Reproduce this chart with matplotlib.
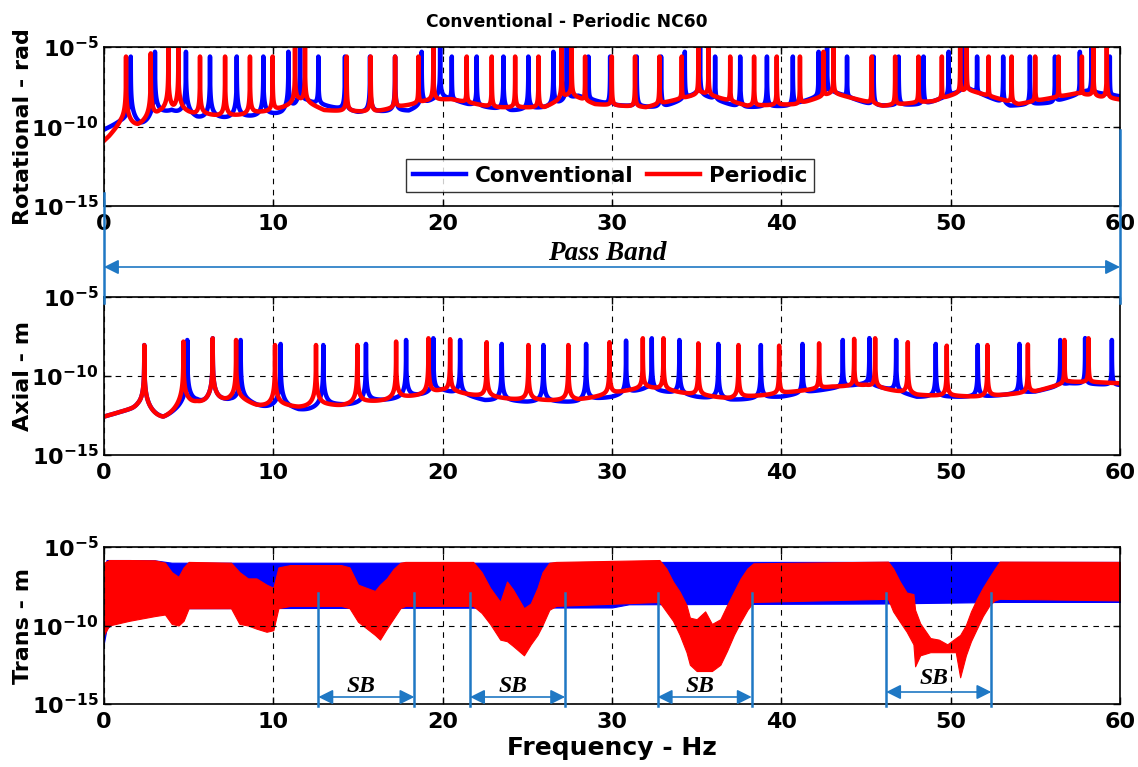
import numpy as np
import pandas as pd
import matplotlib.pyplot as plt
from matplotlib.lines import Line2D
from matplotlib.transforms import blended_transform_factory

plt.rcParams['font.family'] = ['DejaVu Sans']
plt.rcParams['font.weight'] = 'bold'
plt.rcParams['mathtext.fontset'] = 'custom'
plt.rcParams['mathtext.rm'] = 'DejaVu Sans:bold'
plt.rcParams['mathtext.bf'] = 'DejaVu Sans:bold'
plt.rcParams['mathtext.it'] = 'DejaVu Sans:bold:italic'
plt.rcParams['path.simplify'] = False   # keep the narrow resonance peaks

# ---- rotational FRF: resonance frequencies [Hz], peak levels and trough levels [log10 rad]
rot_conv_peaks = [1.58, 3.01, 4.84, 6.26, 7.84, 9.41, 10.89, 11.58, 12.66, 14.23, 15.71, 17.19,
                  18.76, 19.85, 20.54, 22.01, 23.59, 25.06, 26.54, 27.33, 28.61, 29.89, 31.46,
                  32.9, 34.3, 35.2, 36.09, 37.57, 39.15, 40.68, 42.2, 42.7, 43.88, 45.45, 46.93,
                  48.4, 49.88, 50.77, 51.56, 53.1, 54.68, 56.16, 57.63, 58.32, 59.4]
rot_conv_levels = [-5.6, -5.3, -5.3, -5.6, -5.6, -5.6, -5.3, -4.9, -5.6, -5.6, -5.6, -5.6,
                   -5.3, -4.9, -5.6, -5.6, -5.6, -5.6, -5.3, -4.9, -5.6, -5.6, -5.6,
                   -5.6, -5.3, -4.9, -5.6, -5.6, -5.6, -5.6, -5.3, -4.9, -5.6, -5.6, -5.6,
                   -5.6, -5.3, -4.9, -5.6, -5.6, -5.6, -5.6, -5.3, -4.9, -5.6]
rot_per_peaks = [1.30, 2.76, 3.80, 4.39, 5.67, 7.15, 8.62, 9.96, 11.28, 11.87, 14.33, 15.75,
                 17.19, 18.57, 19.45, 21.42, 22.9, 24.28, 25.66, 27.03, 27.62, 28.41, 29.99,
                 31.36, 32.8, 34.12, 35.1, 35.7, 36.98, 38.39, 39.73, 41.1, 42.49, 43.08, 45.34,
                 46.72, 48.1, 49.48, 50.56, 50.95, 52.24, 53.6, 54.99, 56.37, 57.75, 58.43, 59.22]
rot_per_levels = [-5.6, -5.4, -4.9, -4.9, -5.6, -5.6, -5.6, -5.6, -4.9, -4.9, -5.6, -5.6,
                  -5.6, -5.6, -4.9, -5.6, -5.6, -5.6, -5.6, -4.9, -4.9, -5.6, -5.6,
                  -5.6, -5.6, -5.6, -4.9, -4.9, -5.6, -5.6, -5.6, -5.6, -5.3, -4.9, -5.6,
                  -5.6, -5.6, -5.6, -4.9, -4.9, -5.6, -5.6, -5.6, -5.6, -5.6, -4.9, -4.9]
rot_conv_trough_f = [0, 1.0, 2.2, 4.0, 5.5, 8.0, 10.5, 12.0, 15.0, 18.0, 19.8, 21.5, 24.0, 26.5,
                     28.0, 30.0, 33.0, 35.0, 37.5, 40.5, 43.0, 45.5, 48.5, 51.0, 53.5, 56.0,
                     58.0, 60]
rot_conv_trough = [-10.2, -10.0, -9.9, -9.0, -9.45, -9.45, -9.1, -8.5, -9.1, -9.0, -8.1, -8.6,
                   -9.0, -8.7, -8.1, -8.65, -8.8, -7.9, -8.8, -8.7, -7.8, -8.7, -8.6, -7.6,
                   -8.7, -8.5, -7.8, -8.1]
rot_per_trough_f = [0, 0.3, 1.0, 2.0, 3.3, 5.0, 7.5, 10.0, 11.5, 13.0, 16.0, 19.0, 20.5, 23.0,
                    26.0, 27.5, 29.0, 32.0, 35.3, 38.0, 41.0, 43.0, 46.0, 49.0, 51.0, 54.0,
                    57.5, 59.0, 60]
rot_per_trough = [-10.9, -10.7, -10.1, -9.9, -9.1, -9.3, -9.4, -9.0, -8.4, -9.0, -9.1, -8.4,
                  -8.3, -8.8, -8.8, -8.0, -8.6, -8.8, -7.9, -8.7, -8.6, -7.9, -8.7, -8.4,
                  -7.7, -8.6, -7.9, -8.2, -8.3]

# ---- axial FRF [log10 m]
ax_conv_peaks = [2.38, 4.92, 6.42, 8.07, 10.43, 12.95, 15.47, 17.84, 19.45, 21.03, 23.49, 25.95,
                 28.47, 30.83, 32.35, 33.98, 36.28, 38.79, 41.25, 43.63, 45.2, 46.78, 49.12,
                 51.6, 54.06, 56.47, 57.94, 59.52]
ax_conv_levels = [-8.04, -7.72, -7.61, -7.72, -7.97, -8.04, -7.97, -7.72, -7.61, -7.72, -7.97,
                  -8.04, -7.97, -7.76, -7.61, -7.72, -7.97, -8.04, -7.97, -7.72, -7.6, -7.72,
                  -7.97, -8.04, -7.97, -7.72, -7.6, -7.72]
ax_per_peaks = [2.38, 4.69, 6.42, 7.80, 10.1, 12.52, 14.96, 17.25, 19.16, 20.44, 22.6, 25.06,
                27.42, 29.85, 31.82, 33.04, 35.1, 37.47, 39.87, 42.23, 44.3, 45.54, 47.47,
                49.77, 52.17, 54.56, 56.72, 58.14]
ax_per_levels = [-8.04, -7.82, -7.61, -7.72, -8.04, -8.04, -8.04, -7.82, -7.61, -7.67, -7.86,
                 -8.04, -8.04, -7.86, -7.61, -7.61, -7.93, -8.04, -8.08, -7.93, -7.65, -7.61,
                 -7.86, -8.08, -8.04, -8.0, -7.72, -7.61]
ax_conv_trough_f = [0, 2.0, 3.5, 5.5, 7.5, 9.0, 11.5, 14.0, 16.5, 18.5, 20.0, 22.5, 25.0, 28.0,
                    30.0, 32.0, 35.0, 37.0, 40.0, 43.0, 45.0, 48.0, 52.0, 55.0, 57.0, 60]
ax_conv_trough = [-12.57, -12.36, -12.57, -11.62, -11.5, -11.84, -12.15, -11.84, -11.52, -11.2,
                  -10.89, -11.52, -11.62, -11.62, -11.31, -10.78, -11.31, -11.52, -11.31, -10.78,
                  -10.46, -11.31, -11.31, -10.99, -10.46, -10.57]
ax_per_trough_f = [0, 2.0, 3.5, 5.5, 7.5, 9.0, 11.5, 14.0, 16.5, 18.5, 20.0, 22.5, 25.0, 28.0,
                   30.0, 32.0, 35.0, 37.0, 40.0, 43.0, 45.0, 48.0, 52.0, 55.0, 57.0, 60]
ax_per_trough = [-12.57, -12.36, -12.57, -11.62, -11.5, -11.84, -11.94, -11.84, -11.52, -11.2,
                 -10.89, -11.31, -11.52, -11.52, -11.1, -10.67, -11.2, -11.41, -11.1, -10.67,
                 -10.57, -11.2, -11.31, -10.99, -10.36, -10.46]

# ---- transverse FRF: upper / lower envelope of the dense response [log10 m]
tr_conv_f = [0, 0.15, 0.5, 1.5, 3.0, 4.0, 30.0, 31.0, 46.0, 53.0, 60]
tr_conv_hi = [-6.6, -5.83, -5.83, -5.83, -5.85, -6.0, -6.0, -5.95, -5.95, -5.95, -5.95]
tr_conv_lo = [-11.1, -10.2, -9.9, -9.6, -9.3, -8.9, -8.85, -8.65, -8.6, -8.5, -8.5]

tr_per_f = [0.0, 0.3, 1.5, 3.0, 3.6, 4.0, 4.4, 4.7, 5.0, 7.5, 8.0, 8.5, 9.0, 9.6, 10.0, 10.3,
            11.0, 14.0, 14.5, 15.0, 16.0, 16.3, 16.7, 17.1, 17.5, 17.8,
            21.8, 22.3, 22.8, 23.4, 23.8, 24.15, 24.8, 25.2, 25.6, 25.9, 26.3, 26.7,
            32.8, 33.2, 33.6, 34.0, 34.4, 34.6, 35.0, 35.5, 35.9, 36.4, 36.8, 37.2, 37.6,
            38.0, 38.35, 46.3, 46.6, 47.0, 47.4, 47.8, 47.9, 48.2, 48.8, 49.3, 49.8, 50.3,
            50.56, 50.9, 51.2, 51.55, 51.9, 52.3, 52.6, 52.9, 60.0]
tr_per_hi = [-6.0, -5.83, -5.83, -5.85, -6.0, -6.6, -6.9, -6.3, -5.95, -6.0, -6.6, -7.0, -7.0,
             -7.4, -7.6, -6.3, -6.15, -6.15, -6.3, -7.4, -7.8, -7.4, -7.0, -6.4, -6.0, -5.95,
             -5.95, -6.6, -7.6, -8.5, -7.2, -7.7, -8.9, -8.6, -7.6, -6.6, -6.0, -5.95,
             -5.83, -6.36, -7.2, -7.85, -8.7, -9.5, -9.6, -9.1, -9.9, -9.6, -8.7, -7.85, -7.0,
             -6.36, -6.04, -5.93, -6.36, -7.2, -7.9, -8.0, -9.0, -9.86, -10.8, -10.9, -11.2,
             -10.8, -10.6, -9.97, -9.1, -8.3, -7.6, -6.9, -6.4, -5.93, -5.95]
tr_per_lo = [-10.6, -10.0, -9.7, -9.4, -9.3, -9.9, -10.0, -9.7, -8.9, -8.9, -9.9, -10.0, -10.2,
             -10.4, -10.3, -8.9, -8.75, -8.75, -8.9, -9.76, -10.6, -10.9, -10.2, -9.55, -8.9,
             -8.75, -8.75, -9.2, -9.9, -10.9, -11.0, -11.3, -11.9, -11.2, -10.6, -9.97, -9.0,
             -8.75, -8.5, -9.1, -9.7, -10.6, -11.7, -12.5, -12.9, -12.9, -12.9, -12.5, -11.6,
             -10.6, -9.76, -9.0, -8.5, -8.3, -9.1, -9.76, -10.4, -11.2, -12.6, -11.9, -11.7,
             -11.7, -11.7, -11.7, -13.3, -11.9, -11.0, -10.2, -9.4, -8.7, -8.4, -8.3, -8.4]

# stop band limits [Hz]
sb_start = [12.66, 21.62, 32.7, 46.19]
sb_end = [18.33, 27.23, 38.25, 52.4]

BLUE = '#0000ff'
RED = '#ff0000'
ANN = '#1f78c4'
STEP = 0.0025     # frequency resolution [Hz]
WIN = 721         # +-0.9 Hz window used to find the trough level
DECAY = 1.5       # fall-off exponent of each resonance


def frf(peaks, levels, trough_f, trough_v):
    # sum of resonance magnitudes, rescaled so that its troughs follow the read trough
    # level; resonance width and weights are adjusted until the peaks reach the read levels
    freq = np.linspace(0, 60, 24001)
    trough = 10 ** np.interp(freq, trough_f, trough_v)
    idx = np.round(np.array(peaks) / STEP).astype(int)
    target = 10 ** np.array(levels)
    w = target / trough[idx]
    gamma = 1e-3
    for _ in range(10):
        s = np.zeros_like(freq)
        for fk, wk in zip(peaks, w):
            s += wk * (gamma / np.sqrt((freq - fk) ** 2 + gamma ** 2)) ** DECAY
        smin = pd.Series(s).rolling(WIN, center=True, min_periods=1).min()
        smin = smin.rolling(WIN, center=True, min_periods=1).mean().to_numpy()
        y = trough * s / smin
        corr = target / y[idx]
        w = w * corr
        gamma = gamma / np.median(corr) ** (1 / DECAY)
    return freq, y


fig = plt.figure(figsize=(11.38, 7.67), dpi=100)
W, H = 1138, 767
left, width = 104 / W, 1016 / W
ax1 = fig.add_axes([left, 1 - 206 / H, width, 159 / H])
ax2 = fig.add_axes([left, 1 - 455 / H, width, 158 / H])
ax3 = fig.add_axes([left, 1 - 704 / H, width, 157 / H])

f, y = frf(rot_conv_peaks, rot_conv_levels, rot_conv_trough_f, rot_conv_trough)
ax1.plot(f, y, color=BLUE, lw=3.2, label='Conventional')
f, y = frf(rot_per_peaks, rot_per_levels, rot_per_trough_f, rot_per_trough)
ax1.plot(f, y, color=RED, lw=3.2, label='Periodic')

f, y = frf(ax_conv_peaks, ax_conv_levels, ax_conv_trough_f, ax_conv_trough)
ax2.plot(f, y, color=BLUE, lw=3.2)
f, y = frf(ax_per_peaks, ax_per_levels, ax_per_trough_f, ax_per_trough)
ax2.plot(f, y, color=RED, lw=3.2)

ax3.fill_between(tr_conv_f, 10 ** np.array(tr_conv_hi), 10 ** np.array(tr_conv_lo),
                 color=BLUE, lw=0.8)
ax3.fill_between(tr_per_f, 10 ** np.array(tr_per_hi), 10 ** np.array(tr_per_lo),
                 color=RED, lw=0.8)

for ax, lab in zip([ax1, ax2, ax3], ['Rotational - rad', 'Axial - m', 'Trans - m']):
    ax.set_yscale('log')
    ax.set_xlim(0, 60)
    ax.set_ylim(1e-15, 1e-5)
    ax.set_xticks(range(0, 61, 10))
    ax.set_yticks([1e-15, 1e-10, 1e-5])
    ax.set_yticklabels([r'$10^{-15}$', r'$10^{-10}$', r'$10^{-5}$'])
    ax.minorticks_off()
    ax.tick_params(direction='in', top=True, right=True, labelsize=16, length=5, width=1,
                   pad=6)
    ax.tick_params(axis='y', pad=4)
    ax.grid(True, color='black', ls=(0, (5, 5)), lw=0.8)
    for sp in ax.spines.values():
        sp.set_linewidth(1.2)
    ax.set_ylabel(lab, fontsize=16, fontweight='bold')
    ax.yaxis.set_label_coords(-0.07, 0.5)

ax3.set_xlabel('Frequency - Hz', fontsize=18, fontweight='bold', labelpad=3)
fig.text(567 / W, 1 - 22 / H, 'Conventional - Periodic NC60', ha='center', va='center',
         fontsize=12.3, fontweight='bold')

leg = ax1.legend(loc='center', bbox_to_anchor=(0.498, 0.189), ncol=2, fontsize=15.5,
                 frameon=True, fancybox=False, edgecolor='black', handlelength=2.5,
                 handletextpad=0.4, columnspacing=0.6, borderpad=0.3)
leg.get_frame().set_linewidth(1.0)
for t in leg.get_texts():
    t.set_fontweight('bold')

# pass band annotation
tr1 = blended_transform_factory(ax1.transData, fig.transFigure)
fig.add_artist(Line2D([0, 0], [1 - 193 / H, 1 - 303 / H], transform=tr1, color=ANN, lw=1.8))
fig.add_artist(Line2D([60, 60], [1 - 130 / H, 1 - 303 / H], transform=tr1, color=ANN, lw=1.8))
ax1.annotate('', xy=(60, 1 - 267 / H), xytext=(0, 1 - 267 / H),
             xycoords=('data', 'figure fraction'), textcoords=('data', 'figure fraction'),
             arrowprops=dict(arrowstyle='<|-|>', color=ANN, lw=1.2, mutation_scale=22,
                             shrinkA=0, shrinkB=0), annotation_clip=False)
fig.text(607 / W, 1 - 253 / H, 'Pass Band', ha='center', va='center', fontsize=19.5,
         family='Liberation Serif', style='italic', weight='bold')

# stop band annotations
tr3 = blended_transform_factory(ax3.transData, fig.transFigure)
sb_arrow_y = [697, 697, 697, 692]
sb_text_y = [686, 686, 686, 679]
for a, b, ya, yt in zip(sb_start, sb_end, sb_arrow_y, sb_text_y):
    for xv in (a, b):
        fig.add_artist(Line2D([xv, xv], [1 - 593 / H, 1 - 706 / H], transform=tr3,
                              color=ANN, lw=1.8))
    ax3.annotate('', xy=(b, 1 - ya / H), xytext=(a, 1 - ya / H),
                 xycoords=('data', 'figure fraction'), textcoords=('data', 'figure fraction'),
                 arrowprops=dict(arrowstyle='<|-|>', color=ANN, lw=1.2, mutation_scale=22,
                                 shrinkA=0, shrinkB=0), annotation_clip=False)
    ax3.text((a + b) / 2 - 0.3, 1 - yt / H, 'SB', transform=tr3, ha='center', va='center',
             fontsize=17, family='Liberation Serif', style='italic', weight='bold')

fig.savefig('out.png', dpi=100)
